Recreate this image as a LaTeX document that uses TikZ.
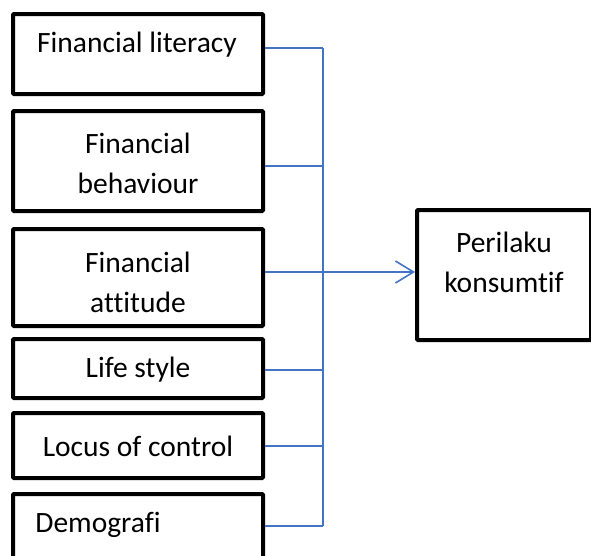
\documentclass[tikz,border=0pt]{standalone}
\usepackage{fontspec}
\setmainfont{Carlito}[Ligatures={NoCommon}]
\usetikzlibrary{arrows.meta}
\definecolor{conn}{RGB}{68,114,196}
\tikzset{
  box/.style={draw=black, line width=4pt, minimum width=250pt, inner sep=0pt, rounded corners=1pt},
  lbl/.style={font=\fontsize{29.5}{40}\selectfont, align=center, inner sep=0pt},
  wire/.style={draw=conn, line width=1.6pt},
  arr/.style={wire, -{Straight Barb[length=18pt,width=22pt,line width=1.6pt]}}
}
\begin{document}
\begin{tikzpicture}[x=1pt,y=-1pt]
\useasboundingbox (0,0) rectangle (591,555);
\fill[white] (0,0) rectangle (591,555);
% left boxes
\node[box, minimum height=80pt] (b1) at (138,54) {};
\node[lbl] (t1) at (137,45) {Financial literacy};
\node[box, minimum height=100pt] (b2) at (138,161) {};
\node[lbl] (t2) at (138,163) {Financial\\behaviour};
\node[box, minimum height=97pt] (b3) at (138,277.5) {};
\node[lbl] (t3) at (138,282) {Financial\\attitude};
\node[box, minimum height=59pt] (b4) at (138,368.5) {};
\node[lbl] (t4) at (138,370) {Life style};
\node[box, minimum height=65pt] (b5) at (138,445.5) {};
\node[lbl] (t5) at (138,446) {Locus of control};
\node[box, minimum height=71pt] (b6) at (138,529.5) {};
\node[lbl] (t6) at (98,525) {Demografi};
% right box
\node[box, minimum width=174pt, minimum height=130pt] (r) at (504,275) {};
\node[lbl] (tr) at (504,262.5) {Perilaku\\konsumtif};
% bus
\coordinate (j1) at (323,48);
\coordinate (j2) at (323,166);
\coordinate (j3) at (323,272);
\coordinate (j4) at (323,370);
\coordinate (j5) at (323,446);
\coordinate (j6) at (323,526);
\draw[wire] (j1) -- (j6);
\draw[wire] (j1 -| b1.east) -- (j1);
\draw[wire] (j2 -| b2.east) -- (j2);
\draw[wire] (j3 -| b3.east) -- (j3);
\draw[wire] (j4 -| b4.east) -- (j4);
\draw[wire] (j5 -| b5.east) -- (j5);
\draw[wire] (j6 -| b6.east) -- (j6);
\draw[arr] (j3) -- (j3 -| r.west);
\end{tikzpicture}
\end{document}
